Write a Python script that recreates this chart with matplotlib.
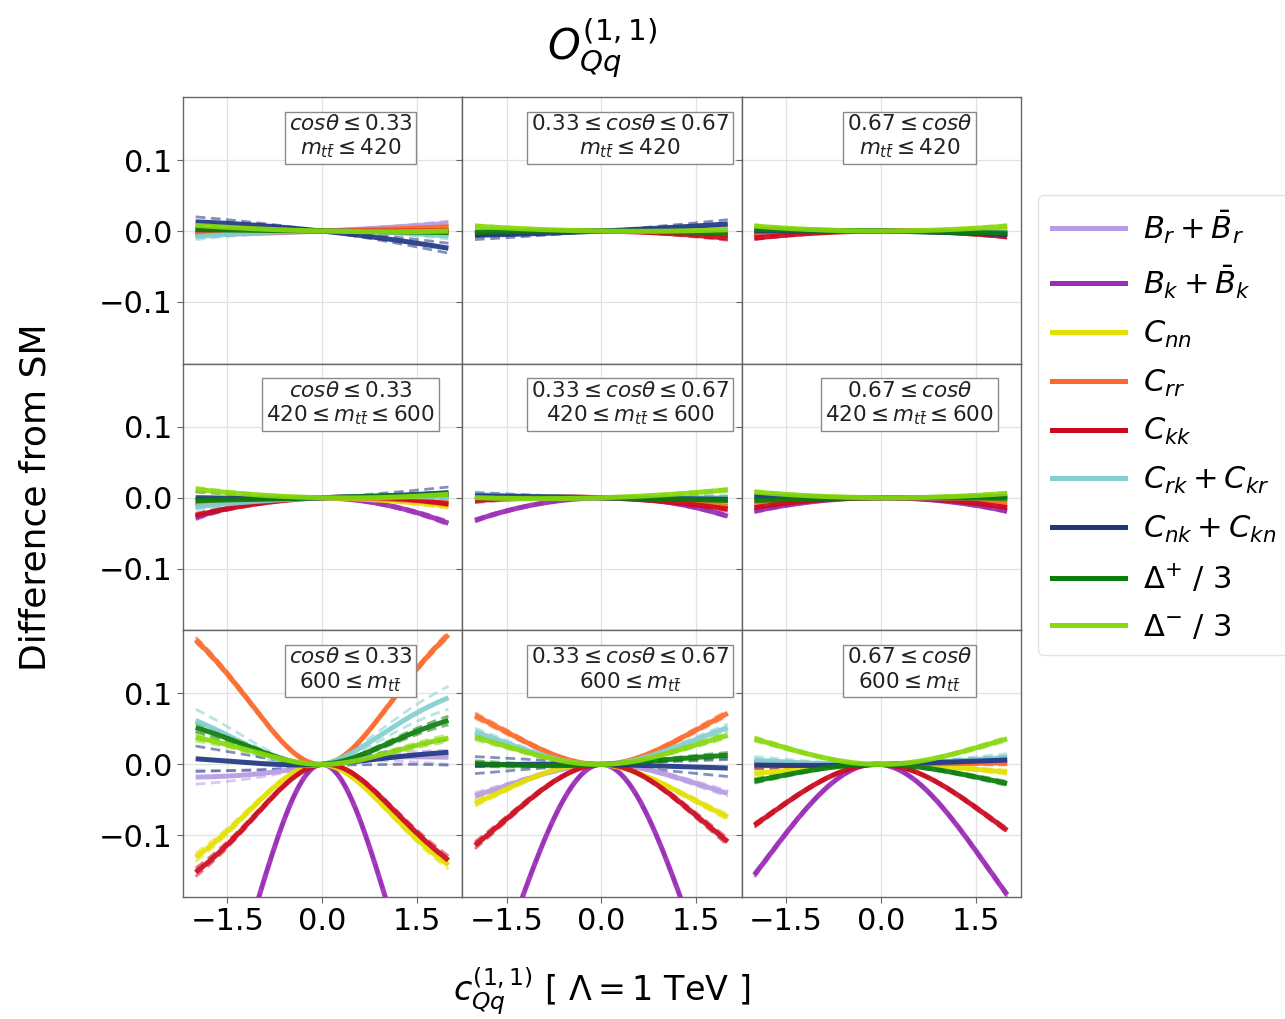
import numpy as np
import matplotlib
matplotlib.use("Agg")
import matplotlib.pyplot as plt
from matplotlib.lines import Line2D

# ---------------- data ----------------
observables = [r'$B_r + \bar{B}_r$', r'$B_k + \bar{B}_k$', r'$C_{nn}$', r'$C_{rr}$',
               r'$C_{kk}$', r'$C_{rk} + C_{kr}$', r'$C_{nk} + C_{kn}$',
               r'$\Delta^{+}\ /\ 3$', r'$\Delta^{-}\ /\ 3$']
colors = ['#b79be2', '#9a2db6', '#e4e000', '#fb6a2c', '#cc0a1e',
          '#82cfcf', '#1f3682', '#0b7d0b', '#88d80e']

cos_labels = [r'$cos\theta \leq 0.33$', r'$0.33 \leq cos\theta \leq 0.67$', r'$0.67 \leq cos\theta$']
mass_labels = [r'$m_{t\bar{t}} \leq 420$', r'$420 \leq m_{t\bar{t}} \leq 600$', r'$600 \leq m_{t\bar{t}}$']

# Difference from SM parametrised as (lin*c + quad*c^2) / (1 + den*c^2)
# rows: mass bins, columns: cos bins; order of observables as above
lin = [
    [[0.0040, 0.0000, 0.0000, 0.0022, -0.0005, 0.00025, -0.0093, -0.0010, -0.0020],
     [0.0005, -0.0005, -0.0010, -0.0005, -0.00125, 0.0005, 0.0040, -0.00025, -0.00125],
     [0.0000, 0.0000, 0.0000, 0.0000, 0.0005, -0.0010, -0.00125, -0.00125, 0.0000]],
    [[0.0030, -0.0020, -0.00175, 0.0005, 0.0040, 0.00325, 0.00175, 0.00225, -0.00175],
     [-0.0005, 0.0015, -0.0020, -0.00225, -0.0030, -0.0010, -0.00125, -0.0010, 0.00275],
     [0.0000, 0.0000, -0.0005, -0.0005, 0.0000, -0.0005, 0.0000, 0.00075, -0.0005]],
    [[0.0148, 0.0000, -0.0058, 0.0037, 0.0090, 0.0170, 0.0048, 0.0053, -0.0005],
     [0.0012, 0.0000, -0.0074, 0.0012, 0.0020, 0.0023, -0.0016, 0.0046, 0.0010],
     [0.0000, -0.0098, 0.0007, 0.0014, -0.0025, 0.0014, 0.0025, -0.0012, 0.0000]],
]
quad = [
    [[0.00075, -0.0005, 0.0005, 0.0004, 0.0003, -0.0019, -0.0014, 0.0000, 0.0010],
     [0.0008, -0.00025, 0.0000, -0.00075, -0.0019, 0.00025, 0.0005, -0.0006, 0.0011],
     [0.00025, -0.00075, 0.0005, -0.0005, -0.00225, 0.0000, -0.0006, -0.0001, 0.00175]],
    [[-0.0005, -0.0080, -0.0021, -0.00225, -0.00425, -0.0016, 0.0009, 0.0001, 0.0021],
     [-0.00125, -0.00725, -0.0015, -0.0019, -0.0025, 0.0005, 0.0001, -0.0005, 0.0014],
     [-0.00075, -0.00475, -0.00125, -0.00175, -0.0035, 0.00025, 0.0005, -0.0006, 0.00175]],
    [[-0.0021, -0.2390, -0.0723, 0.0950, -0.0761, 0.0413, 0.0066, 0.0302, 0.0199],
     [-0.0166, -0.1460, -0.0252, 0.0275, -0.0435, 0.0191, -0.0012, 0.0027, 0.0155],
     [0.0010, -0.0595, -0.0042, 0.0000, -0.0313, 0.0028, 0.0009, -0.0088, 0.0126]],
]
den = [[0.0, 0.0, 0.0],
       [0.0, 0.0, 0.0],
       [0.28, 0.14, 0.10]]
# half-width of the dashed variations at |c| = 2
spread = [
    [[0.003, 0.002, 0.002, 0.002, 0.003, 0.004, 0.007, 0.003, 0.003],
     [0.002, 0.002, 0.002, 0.002, 0.003, 0.002, 0.006, 0.002, 0.002],
     [0.002, 0.002, 0.002, 0.002, 0.002, 0.002, 0.002, 0.002, 0.002]],
    [[0.003, 0.003, 0.003, 0.003, 0.003, 0.004, 0.008, 0.003, 0.003],
     [0.002, 0.002, 0.002, 0.002, 0.003, 0.004, 0.004, 0.002, 0.002],
     [0.002, 0.002, 0.002, 0.002, 0.002, 0.002, 0.002, 0.002, 0.002]],
    [[0.010, 0.003, 0.006, 0.004, 0.006, 0.016, 0.018, 0.006, 0.005],
     [0.004, 0.002, 0.004, 0.004, 0.005, 0.005, 0.012, 0.004, 0.004],
     [0.003, 0.003, 0.003, 0.003, 0.003, 0.005, 0.005, 0.003, 0.003]],
]
c_range = (-2.0, 2.0)
xticks = [-1.5, 0.0, 1.5]
yticks = [-0.1, 0.0, 0.1]

# ---------------- plot ----------------
fig = plt.figure(figsize=(12.85, 10.19), dpi=100)
axes = fig.subplots(3, 3, sharex=True, sharey=True,
                    gridspec_kw=dict(wspace=0, hspace=0))
fig.subplots_adjust(left=0.1424, right=0.7946, top=0.9048, bottom=0.1197)

c = np.linspace(c_range[0], c_range[1], 300)
for r in range(3):
    for k in range(3):
        ax = axes[r, k]
        ax.grid(True, color='#e2e2e2', lw=0.9, zorder=0)
        ax.set_axisbelow(True)
        for i in range(len(observables)):
            y = (lin[r][k][i] * c + quad[r][k][i] * c**2) / (1 + den[r][k] * c**2)
            s = spread[r][k][i] * c / 2.0
            for sgn in (1, -1):
                ax.plot(c, y + sgn * s, color=colors[i], lw=2.0, ls=(0, (3.5, 2)),
                        alpha=0.55, zorder=2 + i * 0.1)
            ax.plot(c, y, color=colors[i], lw=3.6, alpha=0.92, zorder=3 + i * 0.1,
                    solid_capstyle='butt')
        ax.text(0.6, 0.85, cos_labels[k] + '\n' + mass_labels[r], transform=ax.transAxes,
                ha='center', va='center', fontsize=15.5, color='#222222', linespacing=1.15,
                bbox=dict(boxstyle='square,pad=0.18', fc='white', ec='#8a8a8a', lw=1.0),
                zorder=10)
        for sp in ax.spines.values():
            sp.set_color('#666666')
            sp.set_linewidth(1.0)
        ax.tick_params(labelsize=22, length=4, color='#666666', width=0.8)

axes[0, 0].set_xlim(-2.2, 2.22)
axes[0, 0].set_ylim(-0.187, 0.189)
axes[0, 0].set_xticks(xticks)
axes[0, 0].set_yticks(yticks)

fig.text(0.4685, 0.954, r'$O_{Qq}^{(1,1)}$', fontsize=30, ha='center', va='center')
fig.text(0.4685, 0.027, r'$c_{Qq}^{(1,1)}$ [ $\Lambda = 1$ TeV ]', fontsize=24,
         ha='center', va='center')
fig.text(0.028, 0.512, 'Difference from SM', rotation=90, fontsize=26,
         ha='center', va='center')

handles = [Line2D([], [], color=col, lw=3.6) for col in colors]
fig.legend(handles, observables, loc='upper left', bbox_to_anchor=(0.8078, 0.8086),
           borderaxespad=0.0, fontsize=22, handlelength=2.4, handletextpad=0.6,
           labelspacing=0.58, borderpad=0.45, frameon=True, edgecolor='#dddddd')

fig.savefig('out.png', dpi=100)
